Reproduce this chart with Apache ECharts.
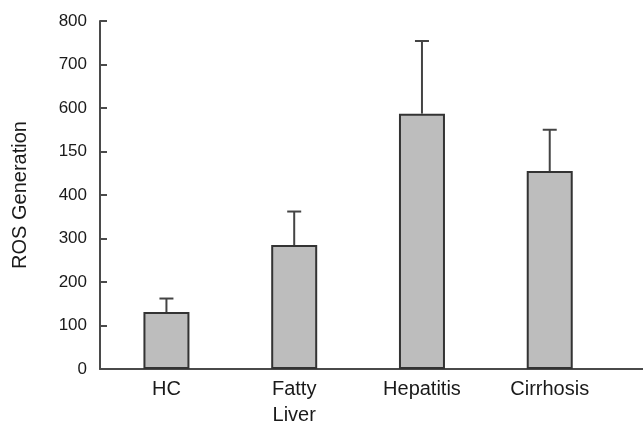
<!DOCTYPE html>
<html>
<head>
<meta charset="utf-8">
<script src="https://cdn.jsdelivr.net/npm/echarts@6/dist/echarts.min.js"></script>
<style>
  html, body { margin: 0; padding: 0; background: #fff; }
  #chart { width: 643px; height: 422px; }
</style>
</head>
<body>
<div id="chart"></div>
<script>
// ROS generation by patient group (mean with upper error bar)
const categories = ['HC', 'Fatty\nLiver', 'Hepatitis', 'Cirrhosis'];
const means = [131, 285, 587, 455];
const errors = [31, 77, 167, 95];
const yTickLabels = ['0', '100', '200', '300', '400', '150', '600', '700', '800'];

const positions = categories.map((_, i) => i + 1);
const barData = positions.map((p, i) => [p, means[i]]);
const errData = positions.map((p, i) => [p, means[i], means[i] + errors[i]]);

const font = '"Liberation Sans", Arial, sans-serif';
const chart = echarts.init(document.getElementById('chart'), null, { renderer: 'canvas' });

chart.setOption({
  animation: false,
  backgroundColor: '#ffffff',
  grid: { left: 100, right: 0, top: 21, bottom: 53, containLabel: false, outerBoundsMode: 'none' },
  xAxis: {
    type: 'value',
    min: 0.48,
    max: 4.73,
    axisLine: { show: true, onZero: false, lineStyle: { color: '#4a4a4a', width: 2 } },
    axisTick: { show: false },
    splitLine: { show: false },
    axisLabel: {
      customValues: positions,
      formatter: v => categories[Math.round(v) - 1] || '',
      fontFamily: font,
      fontSize: 20,
      lineHeight: 26,
      color: '#1a1a1a',
      margin: 7
    }
  },
  yAxis: {
    type: 'value',
    min: 0,
    max: 800,
    interval: 100,
    name: 'ROS Generation',
    nameLocation: 'middle',
    nameRotate: 90,
    nameGap: 70,
    nameTextStyle: { fontFamily: font, fontSize: 20, color: '#1a1a1a' },
    axisLine: { show: true, lineStyle: { color: '#4a4a4a', width: 2 } },
    axisTick: { show: true, inside: true, length: 7, lineStyle: { color: '#4a4a4a', width: 2 } },
    splitLine: { show: false },
    axisLabel: {
      formatter: (v, idx) => yTickLabels[idx],
      fontFamily: font,
      fontSize: 17,
      color: '#1a1a1a',
      margin: 13
    }
  },
  series: [
    {
      type: 'bar',
      data: barData,
      barWidth: 46,
      itemStyle: { color: '#bdbdbd', borderColor: '#333333', borderWidth: 2 },
      z: 2
    },
    {
      type: 'custom',
      data: errData,
      z: 3,
      renderItem: (params, api) => {
        const base = api.coord([api.value(0), api.value(1)]);
        const top = api.coord([api.value(0), api.value(2)]);
        const half = 7;
        const style = { stroke: '#444444', lineWidth: 2 };
        return {
          type: 'group',
          children: [
            { type: 'line', shape: { x1: base[0], y1: base[1], x2: top[0], y2: top[1] }, style },
            { type: 'line', shape: { x1: top[0] - half, y1: top[1], x2: top[0] + half, y2: top[1] }, style }
          ]
        };
      }
    }
  ]
});
</script>
</body>
</html>
